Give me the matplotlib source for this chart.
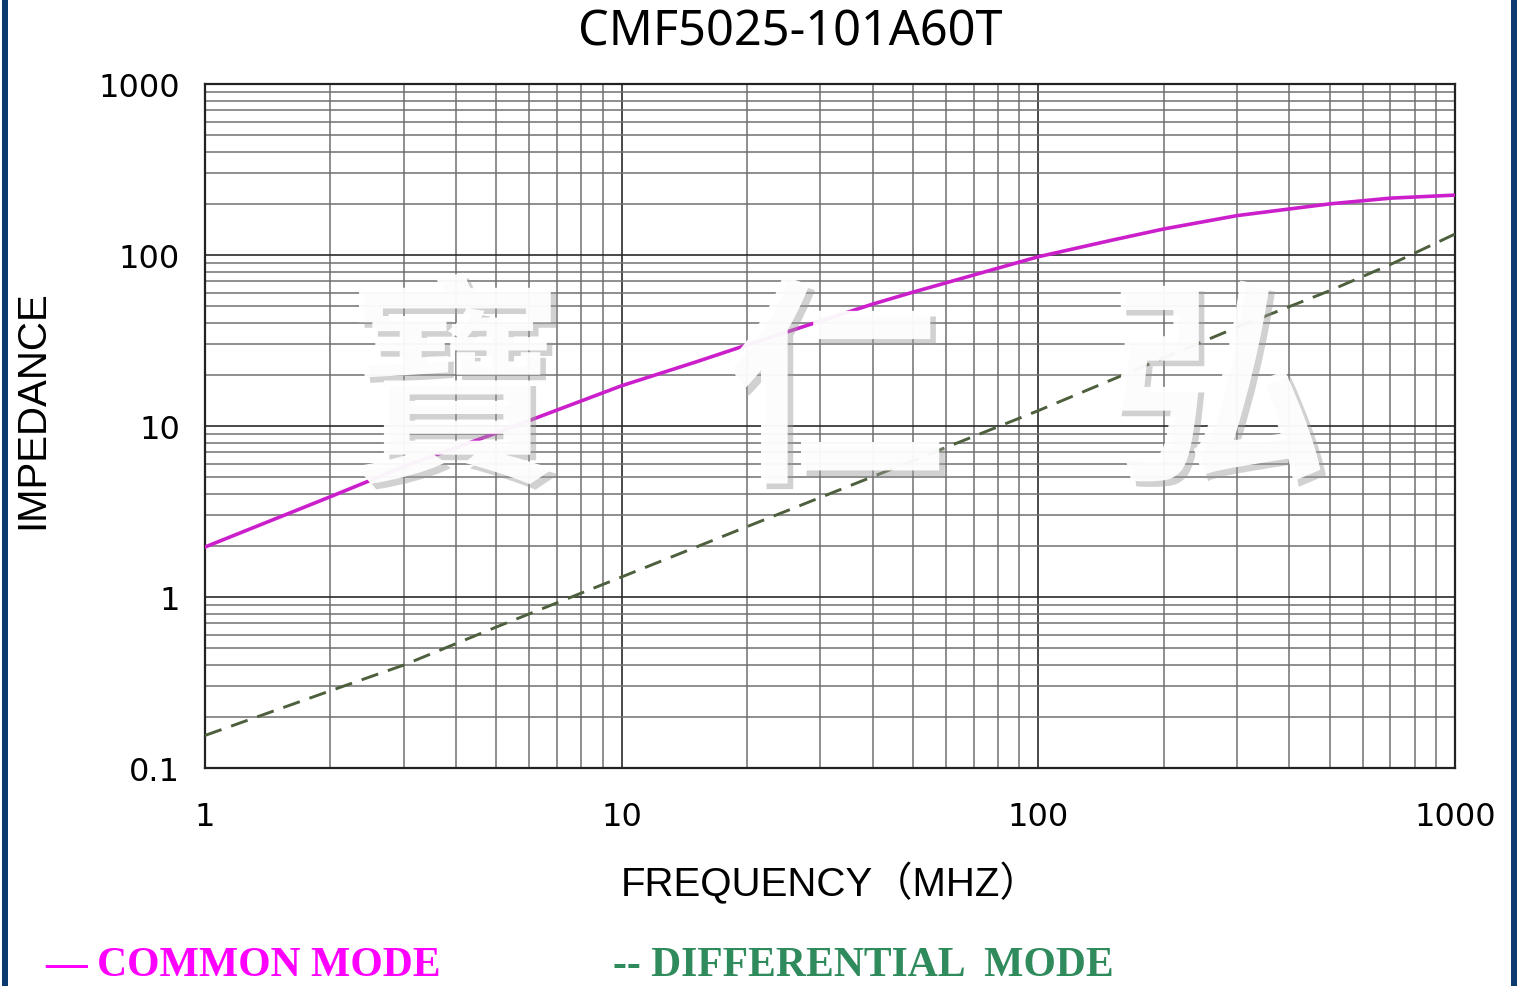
import matplotlib
matplotlib.use("Agg")
import matplotlib.pyplot as plt
import matplotlib.patheffects as pe
from matplotlib.patches import Rectangle

# values (frequency in MHz, impedance in ohm)
freq_cm = [1, 2, 3, 5, 7, 10, 15, 20, 40, 50, 70, 100, 150, 200, 300, 500, 700, 1000]
z_common = [1.96, 3.86, 5.78, 9.1, 12.4, 17.2, 23.6, 29.8, 51.6, 60.6, 76.4, 97.7,
            122, 142, 170, 199, 215, 224]
freq_dm = [1, 2, 3, 5, 10, 20, 40, 100, 200, 300, 500, 700, 1000]
z_diff = [0.155, 0.283, 0.40, 0.667, 1.31, 2.58, 5.05, 12.3, 25.0, 37.8, 61.8, 88, 132.6]

x_ticks = [1, 10, 100, 1000]
x_labels = ["1", "10", "100", "1000"]
y_ticks = [0.1, 1, 10, 100, 1000]
y_labels = ["0.1", "1", "10", "100", "1000"]

W, H = 1517, 987
fig = plt.figure(figsize=(W / 100, H / 100), dpi=100, facecolor="white")
ax = fig.add_axes([205 / W, 1 - 769 / H, 1250 / W, 684 / H])

ax.plot(freq_cm, z_common, color="#cc1fcc", lw=2.6, zorder=3)
ax.plot(freq_dm, z_diff, color="#4d5f3c", lw=2.1, ls=(0, (6, 3.5)), zorder=3)

ax.set_xscale("log")
ax.set_yscale("log")
ax.set_xlim(1, 1000)
ax.set_ylim(0.1, 1000)
ax.set_xticks(x_ticks, x_labels)
ax.set_yticks(y_ticks, y_labels)
ax.tick_params(which="both", length=0)
ax.tick_params(axis="x", pad=24, labelsize=23)
ax.tick_params(axis="y", pad=18, labelsize=23)
ax.grid(True, which="major", color="#2a2a2a", lw=1.2)
ax.grid(True, which="minor", color="#707070", lw=1.1)
for s in ax.spines.values():
    s.set_color("#222222")
    s.set_linewidth(1.6)

fig.text(790 / W, 1 - 33 / H, "CMF5025-101A60T", fontsize=35,
         family="Noto Sans", ha="center", va="center")
fig.text(32 / W, 1 - 410 / H, "IMPEDANCE", fontsize=29, rotation=90,
         family=["Liberation Sans", "DejaVu Sans"], ha="center", va="center")
fig.text(831 / W, 1 - 883 / H, "FREQUENCY（MHZ）", fontsize=29,
         family=["Liberation Sans", "Noto Sans CJK SC"], ha="center", va="center")

# legend written as coloured text under the chart
fig.text(45 / W, 1 - 966 / H, "— COMMON MODE", fontsize=30, color="#ff00ff",
         family="Liberation Serif", weight="bold", ha="left", va="center")
fig.text(613 / W, 1 - 966 / H, "-- DIFFERENTIAL  MODE", fontsize=30, color="#2f8a5c",
         family="Liberation Serif", weight="bold", ha="left", va="center")

# watermark
shadow = [pe.SimplePatchShadow(offset=(4, -4), shadow_rgbFace="#9a9a9a", alpha=0.45),
          pe.Normal()]
for ch, xc in [("寶", 455), ("仁", 835), ("弘", 1215)]:
    fig.text(xc / W, 1 - 400 / H, ch, fontsize=160, color="white", alpha=0.94,
             family="Noto Sans CJK TC", weight="bold", ha="center", va="center",
             path_effects=shadow, zorder=5)

# blue frame at the left and right edges
fig.add_artist(Rectangle((2 / W, 0), 6 / W, 1, transform=fig.transFigure,
                         color="#0b3a6e", lw=0))
fig.add_artist(Rectangle((1511 / W, 0), 6 / W, 1, transform=fig.transFigure,
                         color="#0b3a6e", lw=0))

fig.savefig("out.png", dpi=100, facecolor="white")
